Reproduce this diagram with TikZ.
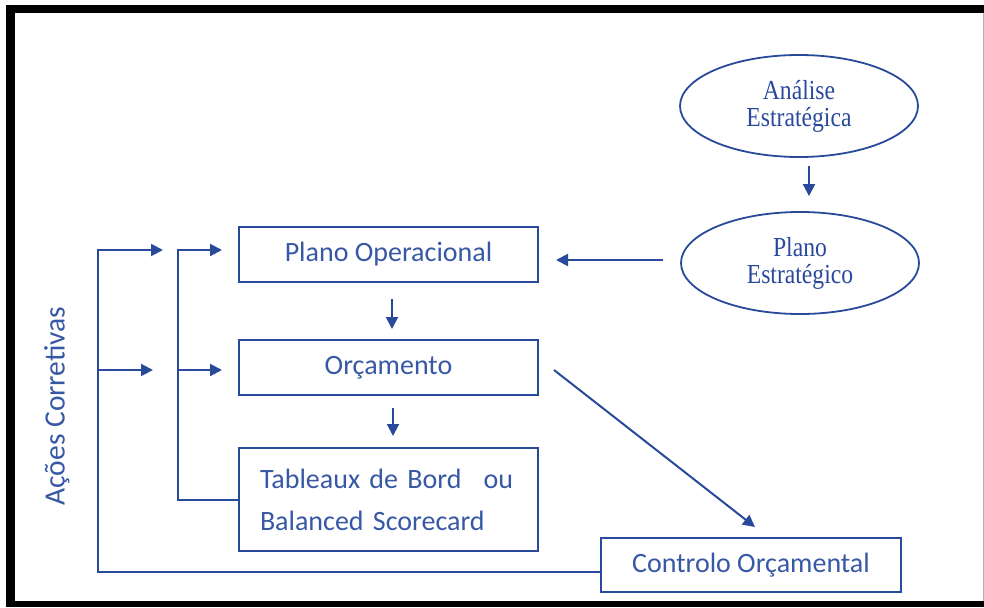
\documentclass[tikz,border=0pt]{standalone}
\usepackage{fontspec}
\setmainfont{Carlito}
\newfontfamily\serifc[FakeStretch=0.86]{Liberation Serif}
\usetikzlibrary{shapes.geometric,arrows.meta}
\definecolor{mainblue}{RGB}{41,74,155}
\definecolor{textblue}{RGB}{55,88,165}
\begin{document}
\begin{tikzpicture}[x=1pt,y=-1pt,
  line/.style={draw=mainblue,line width=2pt},
  arr/.style={line,-{Triangle[length=12pt,width=12pt]}},
  boxn/.style={draw=mainblue,line width=2pt,minimum width=299pt,inner sep=0pt,
     text=textblue,font=\fontsize{28}{34}\selectfont},
  ell/.style={draw=mainblue,line width=1.8pt,ellipse,minimum width=238pt,minimum height=102pt,
     inner sep=0pt,align=center,text=mainblue,font=\serifc\fontsize{27.5}{27}\selectfont}]
\useasboundingbox (0,0) rectangle (984,607);
\fill[white] (0,0) rectangle (984,607);
\fill[black] (6,5) rectangle (984,13);
\fill[black] (6,5) rectangle (15,607);
\fill[black] (6,601) rectangle (984,607);
\draw[gray!60,line width=1pt] (983,13) -- (983,601);

\node[ell] (ana) at (799,106) {Análise\\Estratégica};
\node[ell] (est) at (800,263) {Plano\\Estratégico};

\node[boxn,minimum height=55pt] (plop) at (388.5,254.5) {Plano Operacional};
\node[boxn,minimum height=55pt] (orc) at (388.5,367.5) {Orçamento};
\node[boxn,minimum height=103pt,text width=257pt,align=left,font=\fontsize{28}{42}\selectfont] (tab) at (388.5,499.5)
  {Tableaux de Bord\hspace{22pt}ou\\Balanced Scorecard};
\node[boxn,minimum width=300pt,minimum height=54pt] (ctrl) at (751,565) {Controlo Orçamental};

\node[rotate=90,text=textblue,font=\fontsize{29.5}{34}\selectfont] (acoes) at (57,406) {Ações Corretivas};

% vertical flow
\draw[arr,shorten <=8pt,shorten >=15pt] ([xshift=10pt]ana.south) -- ([xshift=10pt]ana.south |- est.north);
\draw[arr] ([xshift=-17pt,yshift=3pt]est.west) -- ([xshift=17pt,yshift=-5.5pt]plop.east);
\draw[arr,shorten <=16pt,shorten >=10pt] ([xshift=3.5pt]plop.south) -- ([xshift=3.5pt]orc.north);
\draw[arr,shorten <=12pt,shorten >=11pt] ([xshift=4.5pt]orc.south) -- ([xshift=4.5pt]tab.north);
\draw[arr] ([xshift=15pt,yshift=-2.5pt]orc.east) -- ([xshift=4pt,yshift=10pt]ctrl.north);

% inner feedback bracket
\coordinate (i1) at (178,250);
\coordinate (i1t) at (222,250);
\coordinate (i2) at (178,370);
\coordinate (i2t) at (222,370);
\draw[arr] (tab.west) -| (i1) -- (i1t);
\draw[arr] (i2) -- (i2t);

% outer feedback bracket (Ações Corretivas)
\coordinate (o1) at (98,250);
\coordinate (o1t) at (163,250);
\coordinate (o2) at (98,370);
\coordinate (o2t) at (153,370);
\draw[arr] ([yshift=-7pt]ctrl.west) -| (o1) -- (o1t);
\draw[arr] (o2) -- (o2t);
\end{tikzpicture}
\end{document}
